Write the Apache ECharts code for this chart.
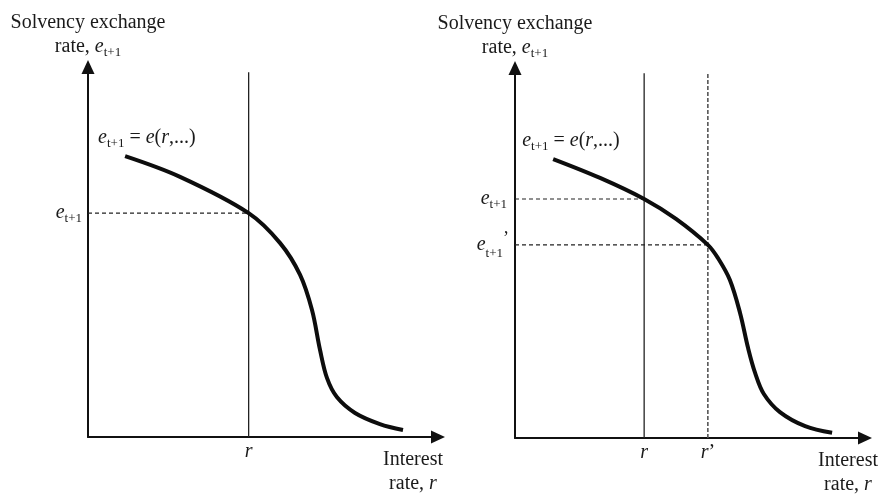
<!DOCTYPE html>
<html>
<head>
<meta charset="utf-8">
<script src="https://cdn.jsdelivr.net/npm/echarts@6/dist/echarts.min.js"></script>
<style>
  html, body { margin: 0; padding: 0; background: #fff; }
  #chart { width: 882px; height: 495px; }
</style>
</head>
<body>
<div id="chart"></div>
<script>
// curve points, [interest rate, exchange rate] on a 0-100 scale
var curveLeft = [[10.6,75.9],[26.3,70.3],[45.9,60.5],[54.9,52.4],[60.6,43.8],[64.0,34.3],[66.3,23.5],
  [68.3,15.9],[71.1,10.8],[76.3,6.5],[83.4,3.5],[90.0,1.9]];
var curveRight = [[10.9,75.4],[24.3,70.3],[36.9,64.6],[46.0,59.2],[55.1,52.2],[58.0,48.6],[61.4,42.7],
  [64.3,33.8],[66.6,24.3],[68.6,17.6],[71.1,11.9],[75.7,7.0],[82.9,3.2],[90.6,1.4]];
// rate levels and matching exchange rates
var rateLeft = 45.9, eLeft = 60.5;
var rateRight = 36.9, eRight = 64.6;
var rateNew = 55.1, eNew = 52.2;
var lineTop = 98.6;

var font = 'Liberation Serif';
var ink = '#1a1a1a';
var rich = {
  n: { fontFamily: font, fontSize: 20, color: ink, lineHeight: 24 },
  e: { fontFamily: font, fontSize: 20, color: ink, fontStyle: 'italic', lineHeight: 24 },
  i: { fontFamily: font, fontSize: 20, color: ink, fontStyle: 'italic', lineHeight: 24 },
  sub: { fontFamily: font, fontSize: 13, color: ink, lineHeight: 12, verticalAlign: 'bottom' },
  sup: { fontFamily: font, fontSize: 18, color: ink, lineHeight: 30, verticalAlign: 'top' }
};
var eSub = '{e|e}{sub|t+1}';

function axisLine() {
  return { show: true, symbol: ['none', 'triangle'], symbolSize: [13, 14],
    lineStyle: { color: '#111', width: 2 } };
}
function xAxisFor(idx, gap) {
  return {
    type: 'value', gridIndex: idx, min: 0, max: 100, axisLine: axisLine(),
    axisTick: { show: false }, axisLabel: { show: false }, splitLine: { show: false },
    name: '{n|Interest}\n{n|rate, }{i|r}', nameLocation: 'end', nameGap: gap,
    nameTextStyle: { align: 'center', verticalAlign: 'top', padding: [11, 0, 0, 0], rich: rich }
  };
}
function yAxisFor(idx) {
  return {
    type: 'value', gridIndex: idx, min: 0, max: 100, axisLine: axisLine(),
    axisTick: { show: false }, axisLabel: { show: false }, splitLine: { show: false },
    name: '{n|Solvency exchange}\n{n|rate, }' + eSub, nameLocation: 'end', nameGap: 8,
    nameTextStyle: { align: 'center', verticalAlign: 'bottom', rich: rich }
  };
}
function seg(idx, pts, style) {
  return { type: 'line', xAxisIndex: idx, yAxisIndex: idx, data: pts, symbol: 'none',
    lineStyle: style, silent: true, z: 2 };
}
function tag(idx, pt, text, pos, dist, extra) {
  var lab = { show: true, formatter: text, position: pos, distance: dist, color: ink, rich: rich };
  for (var k in extra) lab[k] = extra[k];
  return { type: 'scatter', xAxisIndex: idx, yAxisIndex: idx, symbolSize: 0, silent: true,
    itemStyle: { opacity: 1 }, data: [pt], label: lab, z: 5 };
}

var thin = { color: '#222', width: 1.3 };
var dash = { color: '#222', width: 1.1, type: [4, 3] };
var dashGrey = { color: '#555', width: 1.6, type: [4, 2] };
var bold = { color: '#0d0d0d', width: 4 };

var chart = echarts.init(document.getElementById('chart'));
chart.setOption({
  animation: false,
  grid: [
    { left: 88, top: 67, width: 350, height: 370 },
    { left: 515, top: 68, width: 350, height: 370 }
  ],
  xAxis: [xAxisFor(0, -25), xAxisFor(1, -17)],
  yAxis: [yAxisFor(0), yAxisFor(1)],
  series: [
    // left panel
    seg(0, [[rateLeft, 0], [rateLeft, lineTop]], thin),
    seg(0, [[0, eLeft], [rateLeft, eLeft]], dash),
    { type: 'line', xAxisIndex: 0, yAxisIndex: 0, data: curveLeft, smooth: 0.35, symbol: 'none',
      lineStyle: bold, z: 3 },
    tag(0, [rateLeft, 0], '{i|r}', 'bottom', 3, {}),
    tag(0, [0, eLeft], eSub, 'left', 6, {}),
    tag(0, curveLeft[0], eSub + '{n| = }{e|e}{n|(}{i|r}{n|,...)}', [-27, -30], 0,
      { align: 'left', verticalAlign: 'top' }),
    // right panel
    seg(1, [[rateRight, 0], [rateRight, lineTop]], thin),
    seg(1, [[rateNew, 0], [rateNew, lineTop]], dashGrey),
    seg(1, [[0, eRight], [rateRight, eRight]], dash),
    seg(1, [[0, eNew], [rateNew, eNew]], dash),
    { type: 'line', xAxisIndex: 1, yAxisIndex: 1, data: curveRight, smooth: 0.35, symbol: 'none',
      lineStyle: bold, z: 3 },
    tag(1, [rateRight, 0], '{i|r}', 'bottom', 3, {}),
    tag(1, [rateNew, 0], '{i|r}{n|’}', 'bottom', 3, {}),
    tag(1, [0, eRight], eSub, 'left', 8, {}),
    tag(1, [0, eNew], eSub + '{sup|’}', 'left', 6, {}),
    tag(1, curveRight[0], eSub + '{n| = }{e|e}{n|(}{i|r}{n|,...)}', [-31, -30], 0,
      { align: 'left', verticalAlign: 'top' })
  ]
});
</script>
</body>
</html>
